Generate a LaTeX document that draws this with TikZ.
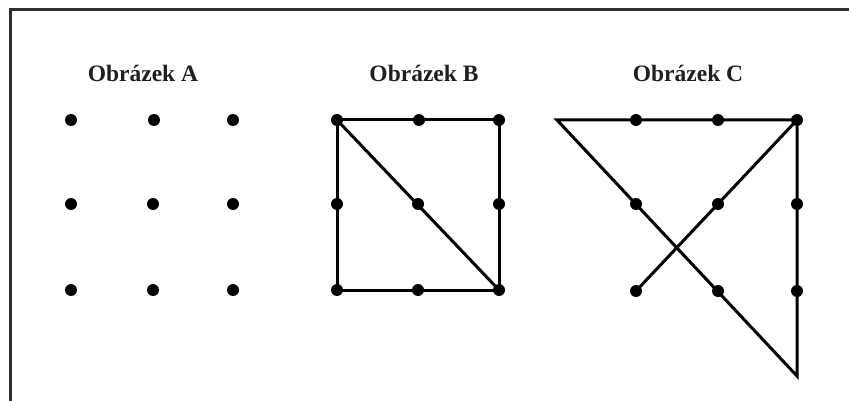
\documentclass[tikz,border=0pt]{standalone}
\usepackage{fontspec}
\setmainfont{Liberation Serif}
\begin{document}
\begin{tikzpicture}[x=1pt,y=-1pt,
  dot/.style={circle,fill=black,inner sep=0pt,minimum size=12pt},
  lbl/.style={font=\fontsize{23.5}{28}\selectfont\bfseries,anchor=base,inner sep=0pt,text=black!88},
  edge/.style={line width=3pt,line join=miter,draw=black},
  frame/.style={line width=3pt,draw=black!82}]
\useasboundingbox (0,0) rectangle (849,401);
\draw[frame] (849,10) -- (10,10) -- (10,401);
% labels
\node[lbl] (la) at (143,82) {Obrázek A};
\node[lbl] (lb) at (424,82) {Obrázek B};
\node[lbl] (lc) at (688,82) {Obrázek C};
% figure A
\node[dot] (a11) at (71,120) {};
\node[dot] (a12) at (154,120) {};
\node[dot] (a13) at (233,120) {};
\node[dot] (a21) at (71,204) {};
\node[dot] (a22) at (153,204) {};
\node[dot] (a23) at (233,204) {};
\node[dot] (a31) at (71,290) {};
\node[dot] (a32) at (153,290) {};
\node[dot] (a33) at (233,290) {};
% figure B
\node[dot] (b11) at (337,120) {};
\node[dot] (b12) at (419,120) {};
\node[dot] (b13) at (499,120) {};
\node[dot] (b21) at (337,204) {};
\node[dot] (b22) at (418,204) {};
\node[dot] (b23) at (499,204) {};
\node[dot] (b31) at (337,290) {};
\node[dot] (b32) at (418,290) {};
\node[dot] (b33) at (499,290) {};
\draw[edge] (b11.center) -- (b13.center) -- (b33.center) -- (b31.center) -- cycle;
\draw[edge] (b11.center) -- (b33.center);
% figure C
\node[dot] (c11) at (636,120) {};
\node[dot] (c12) at (718,120) {};
\node[dot] (c13) at (797,120) {};
\node[dot] (c21) at (636,204) {};
\node[dot] (c22) at (718,204) {};
\node[dot] (c23) at (797,204) {};
\node[dot] (c31) at (636,291) {};
\node[dot] (c32) at (718,291) {};
\node[dot] (c33) at (797,291) {};
\coordinate (capex) at (557,120);
\coordinate (cend) at (797,376);
\draw[edge] (c31.center) -- (c13.center) -- (capex) -- (cend) -- (c13.center);
\end{tikzpicture}
\end{document}
